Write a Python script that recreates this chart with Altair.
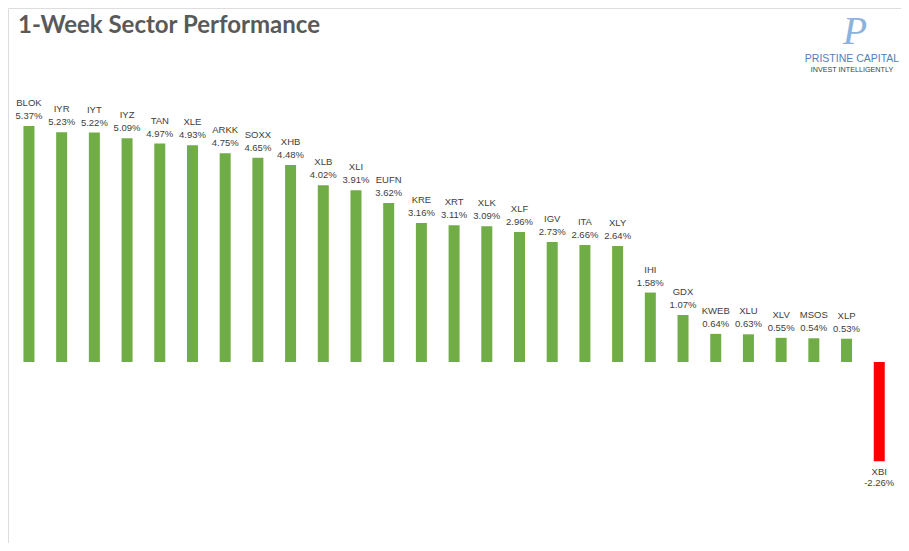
import altair as alt
import pandas as pd

tickers = ["BLOK", "IYR", "IYT", "IYZ", "TAN", "XLE", "ARKK", "SOXX", "XHB", "XLB",
           "XLI", "EUFN", "KRE", "XRT", "XLK", "XLF", "IGV", "ITA", "XLY", "IHI",
           "GDX", "KWEB", "XLU", "XLV", "MSOS", "XLP", "XBI"]
returns = [5.37, 5.23, 5.22, 5.09, 4.97, 4.93, 4.75, 4.65, 4.48, 4.02,
           3.91, 3.62, 3.16, 3.11, 3.09, 2.96, 2.73, 2.66, 2.64, 1.58,
           1.07, 0.64, 0.63, 0.55, 0.54, 0.53, -2.26]

df = pd.DataFrame({"ticker": tickers, "ret": returns})
df["label"] = df["ret"].map(lambda v: f"{v:.2f}%")

W, H = 893, 535
x = alt.X("ticker:N", sort=tickers, axis=None,
          scale=alt.Scale(range=[4.6, 887.6], paddingInner=0.66, paddingOuter=0.33))
y = alt.Y("ret:Q", axis=None, scale=alt.Scale(domain=[-3, 6], range=[485.85, 90.3]))

base = alt.Chart(df)

bars = base.mark_bar(size=11).encode(
    x=x, y=y, y2=alt.datum(0),
    color=alt.condition(alt.datum.ret < 0, alt.value("#ff0000"), alt.value("#70ad47")),
)

lab_font = "Liberation Sans"
lab_col = "#404040"
pos = base.transform_filter(alt.datum.ret >= 0)
neg = base.transform_filter(alt.datum.ret < 0)

name_pos = pos.mark_text(font=lab_font, fontSize=9.5, color=lab_col, baseline="middle", dy=-23).encode(x=x, y=y, text="ticker:N")
val_pos = pos.mark_text(font=lab_font, fontSize=9.5, color=lab_col, baseline="middle", dy=-10).encode(x=x, y=y, text="label:N")
name_neg = neg.mark_text(font=lab_font, fontSize=9.5, color=lab_col, baseline="middle", dy=11).encode(x=x, y=y, text="ticker:N")
val_neg = neg.mark_text(font=lab_font, fontSize=9.5, color=lab_col, baseline="middle", dy=22).encode(x=x, y=y, text="label:N")

title = alt.Chart(pd.DataFrame({"t": ["1-Week Sector Performance"]})).mark_text(
    font="Lato", fontSize=24, fontWeight="bold", color="#595959", align="left", baseline="alphabetic"
).encode(x=alt.value(10), y=alt.value(25), text="t:N")

logo_p = alt.Chart(pd.DataFrame({"t": ["P"]})).mark_text(
    font="Liberation Serif", fontSize=40, fontStyle="italic", color="#8db3dd", align="center", baseline="middle"
).encode(x=alt.value(847), y=alt.value(24), text="t:N")
logo1 = alt.Chart(pd.DataFrame({"t": ["PRISTINE CAPITAL"]})).mark_text(
    font="Liberation Sans", fontSize=10.5, color="#4f81bd", align="center", baseline="middle"
).encode(x=alt.value(844), y=alt.value(51), text="t:N")
logo2 = alt.Chart(pd.DataFrame({"t": ["INVEST INTELLIGENTLY"]})).mark_text(
    font="Liberation Sans", fontSize=7.2, color="#404040", align="center", baseline="middle"
).encode(x=alt.value(844), y=alt.value(62), text="t:N")

chart = alt.layer(bars, name_pos, val_pos, name_neg, val_neg, title, logo_p, logo1, logo2).properties(
    width=W, height=H, padding=0, autosize=alt.AutoSizeParams(type="none")
).configure_view(stroke="#d9d9d9", strokeWidth=1).configure(background="white")

chart.save("out.html", embed_options={"renderer": "svg", "actions": False})
